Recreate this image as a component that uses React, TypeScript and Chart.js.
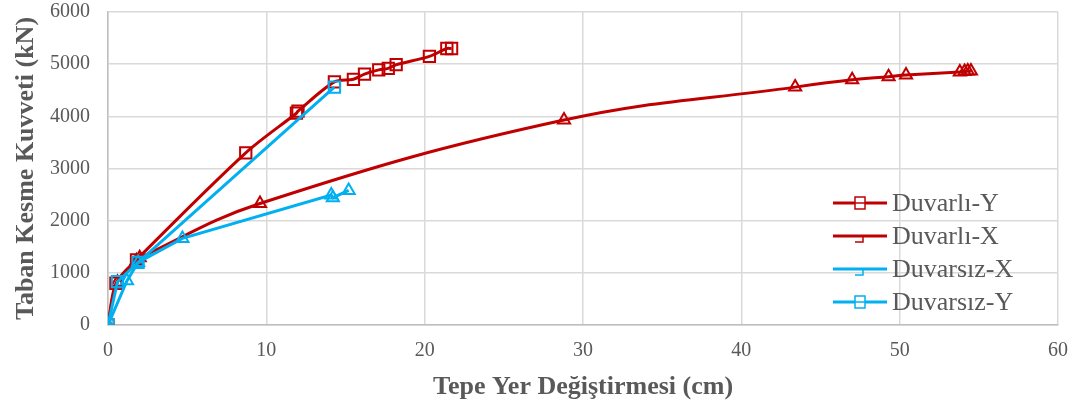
import React, { useEffect, useRef } from "react";
import { Chart, registerables } from "chart.js";

Chart.register(...registerables);

const duvarliY_x = [0, 0.5, 1.8, 8.7, 11.9, 12.0, 14.3, 15.5, 16.2, 17.1, 17.7, 18.2, 20.3, 21.4, 21.7];
const duvarliY_y = [0, 800, 1250, 3300, 4060, 4100, 4660, 4710, 4810, 4890, 4920, 4990, 5150, 5300, 5300];

const duvarliX_x = [0, 0.6, 1.8, 2.0, 9.6, 28.8, 43.4, 47.0, 49.3, 50.4, 53.8, 54.1, 54.3, 54.5];
const duvarliX_y = [0, 820, 1230, 1290, 2330, 3930, 4560, 4700, 4760, 4790, 4850, 4860, 4870, 4870];

const duvarsizX_x = [0, 1.2, 1.9, 4.7, 14.1, 14.2, 15.2];
const duvarsizX_y = [0, 850, 1200, 1660, 2490, 2440, 2580];

const duvarsizY_x = [0, 0.6, 1.9, 14.3];
const duvarsizY_y = [0, 830, 1200, 4560];

const xTicks = [0, 10, 20, 30, 40, 50, 60];
const yTicks = [0, 1000, 2000, 3000, 4000, 5000, 6000];

const seriesNames = ["Duvarlı-Y", "Duvarlı-X", "Duvarsız-X", "Duvarsız-Y"];

const RED = "#C00000";
const CYAN = "#00B0F0";
const GRAY = "#595959";
const SERIF = "'Liberation Serif', 'Times New Roman', serif";

const pts = (xs: number[], ys: number[]) => xs.map((x, i) => ({ x, y: ys[i] }));

const legendPlugin = {
  id: "customLegend",
  afterDraw(chart: any) {
    const ctx = chart.ctx;
    const items = [
      { name: seriesNames[0], color: RED, style: "rect" },
      { name: seriesNames[1], color: RED, style: "triangle" },
      { name: seriesNames[2], color: CYAN, style: "triangle" },
      { name: seriesNames[3], color: CYAN, style: "rect" },
    ];
    const x0 = 833;
    const y0 = 203;
    const rowH = 33;
    ctx.save();
    items.forEach((it, i) => {
      const y = y0 + i * rowH;
      ctx.strokeStyle = it.color;
      ctx.lineWidth = 3;
      ctx.beginPath();
      ctx.moveTo(x0, y);
      ctx.lineTo(x0 + 54, y);
      ctx.stroke();
      ctx.lineWidth = 1.5;
      const cx = x0 + 27;
      ctx.fillStyle = "#fff";
      if (it.style === "rect") {
        ctx.fillRect(cx - 5, y - 6, 10, 12);
        ctx.strokeRect(cx - 5, y - 6, 10, 12);
        ctx.beginPath();
        ctx.moveTo(cx - 5, y);
        ctx.lineTo(cx + 5, y);
        ctx.stroke();
      } else {
        ctx.beginPath();
        ctx.moveTo(cx - 5, y + 6);
        ctx.lineTo(cx + 3, y + 6);
        ctx.lineTo(cx + 3, y + 1);
        ctx.stroke();
      }
      ctx.fillStyle = GRAY;
      ctx.font = `26px ${SERIF}`;
      ctx.textBaseline = "middle";
      ctx.textAlign = "left";
      ctx.fillText(it.name, x0 + 59, y + 1);
    });
    ctx.restore();
  },
};

export default function App() {
  const ref = useRef<HTMLCanvasElement | null>(null);

  useEffect(() => {
    document.body.style.margin = "0";
    const canvas = ref.current;
    if (!canvas) return;
    const ds = (label: string, data: any[], color: string, style: string, tension: number, radius: number, order: number) => ({
      label,
      data,
      order,
      borderColor: color,
      backgroundColor: "rgba(0,0,0,0)",
      borderWidth: 3,
      pointStyle: style,
      pointRadius: radius,
      pointBorderWidth: 2,
      pointBorderColor: color,
      pointBackgroundColor: "rgba(0,0,0,0)",
      tension,
      showLine: true,
      fill: false,
    });
    const zeroPad = (s: any) => {
      s.paddingTop = 0;
      s.paddingBottom = 0;
      s.paddingLeft = 0;
      s.paddingRight = 0;
    };
    const chart = new Chart(canvas, {
      type: "scatter",
      data: {
        datasets: [
          ds(seriesNames[0], pts(duvarliY_x, duvarliY_y), RED, "rect", 0.3, 8, 4),
          ds(seriesNames[1], pts(duvarliX_x, duvarliX_y), RED, "triangle", 0.4, 7, 3),
          ds(seriesNames[2], pts(duvarsizX_x, duvarsizX_y), CYAN, "triangle", 0, 7, 2),
          ds(seriesNames[3], pts(duvarsizY_x, duvarsizY_y), CYAN, "rect", 0, 8, 1),
        ] as any,
      },
      options: {
        responsive: false,
        animation: false,
        layout: { padding: { top: 12, right: 19, left: 0, bottom: 0 } },
        plugins: {
          legend: { display: false },
          tooltip: { enabled: false },
        },
        scales: {
          x: {
            type: "linear",
            min: 0,
            max: 60,
            afterFit: (s: any) => {
              s.height = 82;
              zeroPad(s);
            },
            afterBuildTicks: (s: any) => {
              s.ticks = xTicks.map((v) => ({ value: v }));
            },
            grid: { color: "#D9D9D9", lineWidth: 1.5, drawTicks: false },
            border: { color: "#BFBFBF", width: 1.5 },
            ticks: {
              color: GRAY,
              padding: 14,
              font: { family: SERIF, size: 20 },
              callback: (v: any) => String(v),
            },
            title: {
              display: true,
              text: "Tepe Yer Değiştirmesi (cm)",
              color: GRAY,
              font: { family: SERIF, size: 26, weight: "bold" },
              padding: { top: 0, bottom: 4 },
            },
          },
          y: {
            type: "linear",
            min: 0,
            max: 6000,
            afterFit: (s: any) => {
              s.width = 108;
              zeroPad(s);
            },
            afterBuildTicks: (s: any) => {
              s.ticks = yTicks.map((v) => ({ value: v }));
            },
            grid: { color: "#D9D9D9", lineWidth: 1.5, drawTicks: false },
            border: { color: "#BFBFBF", width: 1.5 },
            ticks: {
              color: GRAY,
              padding: 18,
              font: { family: SERIF, size: 20 },
              callback: (v: any) => String(v),
            },
            title: {
              display: true,
              text: "Taban Kesme Kuvveti (kN)",
              color: GRAY,
              font: { family: SERIF, size: 26, weight: "bold" },
              padding: { top: 11, bottom: 0 },
            },
          },
        },
      },
      plugins: [legendPlugin],
    } as any);
    return () => chart.destroy();
  }, []);

  return <canvas ref={ref} width={1077} height={407} style={{ display: "block" }} />;
}
